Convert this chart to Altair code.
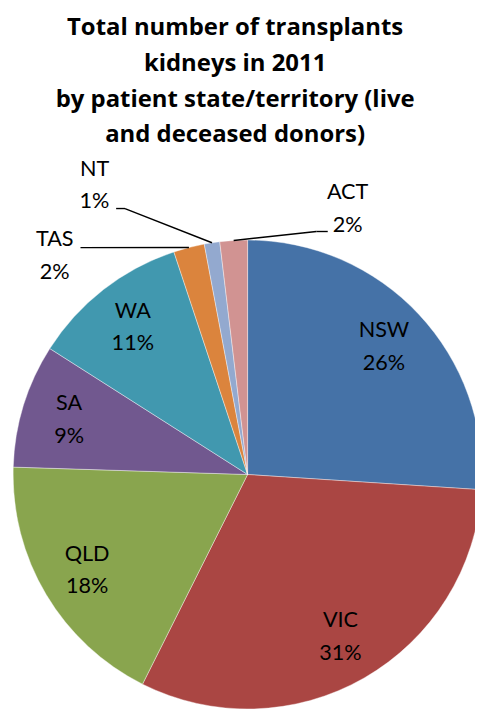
import json
import altair as alt
import pandas as pd

# ---- data ----
states = ["NSW", "VIC", "QLD", "SA", "WA", "TAS", "NT", "ACT"]
transplants = [220, 265, 153, 72, 92, 18, 9, 16]
colors = ["#4572A7", "#AA4643", "#89A54E", "#71588F", "#4198AF", "#DB843D", "#93A9CF", "#D19392"]
title_lines = [
    "Total number of transplants",
    "kidneys in 2011",
    "by patient state/territory (live",
    "and deceased donors)",
]
outside_states = ["TAS", "NT", "ACT"]

# ---- layout ----
W, H = 475, 701
CX, CY, R = 243.7, 468.5, 238.5
LABEL_R = 190
FONT = "Lato"
TITLE_FONT = "Open Sans"
LINE_H = 33
# leader line layout relative to slice edge point: elbow, end, text centre
LEADERS = {
    "TAS": ((-110.3, 0.1), (-110.3, 0.1), (-136.5, 8.4)),
    "NT": ((-88.5, -34.8), (-97.5, -34.8), (-119.5, -58.8)),
    "ACT": ((84.1, -9.1), (95.7, -9.1), (115.9, -32.4)),
}

df = pd.DataFrame({"state": states, "n": transplants, "order": list(range(len(states)))})

base = (
    alt.Chart(df)
    .transform_joinaggregate(total="sum(n)")
    .transform_window(cum="sum(n)", sort=[alt.SortField("order")], frame=[None, 0])
    .transform_calculate(
        a0="2*PI*(datum.cum-datum.n)/datum.total",
        a1="2*PI*datum.cum/datum.total",
    )
    .transform_calculate(
        mid="(datum.a0+datum.a1)/2",
        pct="format(datum.n/datum.total, '.0%')",
    )
    .transform_calculate(
        label="datum.state + '\\n' + datum.pct",
        sx=f"{CX}+{R}*sin(datum.mid)",
        sy=f"{CY}-{R}*cos(datum.mid)",
    )
)

arcs = base.mark_arc(radius=R, stroke="white", strokeWidth=0.4).encode(
    x=alt.value(CX),
    y=alt.value(CY),
    theta=alt.Theta("a0:Q", scale=None, stack=False),
    theta2=alt.Theta2("a1:Q"),
    color=alt.Color("state:N", scale=alt.Scale(domain=states, range=colors), legend=None),
)

text_style = dict(font=FONT, fontSize=22, lineBreak="\n", lineHeight=LINE_H,
                  align="center", baseline="middle", color="black", dy=-LINE_H / 2)

inner = (
    base.transform_filter(f"indexof({json.dumps(outside_states)}, datum.state) < 0")
    .transform_calculate(
        tx=f"{CX}+{LABEL_R}*sin(datum.mid)",
        ty=f"{CY}-{LABEL_R}*cos(datum.mid)",
    )
    .mark_text(**text_style)
    .encode(
        x=alt.X("tx:Q", scale=None, axis=None),
        y=alt.Y("ty:Q", scale=None, axis=None),
        text="label:N",
    )
)

outer_layers = []
for s in outside_states:
    (ex1, ey1), (ex2, ey2), (tx, ty) = LEADERS[s]
    b = base.transform_filter(f"datum.state == '{s}'").transform_calculate(
        e1x=f"datum.sx+({ex1})", e1y=f"datum.sy+({ey1})",
        e2x=f"datum.sx+({ex2})", e2y=f"datum.sy+({ey2})",
        tx=f"datum.sx+({tx})", ty=f"datum.sy+({ty})",
    )
    outer_layers.append(
        b.mark_rule(color="black", strokeWidth=1.4).encode(
            x=alt.X("sx:Q", scale=None, axis=None), y=alt.Y("sy:Q", scale=None, axis=None),
            x2="e1x:Q", y2="e1y:Q",
        )
    )
    outer_layers.append(
        b.mark_rule(color="black", strokeWidth=1.4).encode(
            x=alt.X("e1x:Q", scale=None, axis=None), y=alt.Y("e1y:Q", scale=None, axis=None),
            x2="e2x:Q", y2="e2y:Q",
        )
    )
    outer_layers.append(
        b.mark_text(**text_style).encode(
            x=alt.X("tx:Q", scale=None, axis=None), y=alt.Y("ty:Q", scale=None, axis=None),
            text="label:N",
        )
    )

title = alt.Chart(pd.DataFrame({"t": ["\n".join(title_lines)]})).mark_text(
    font=TITLE_FONT, fontSize=24.3, fontWeight="bold", lineBreak="\n", lineHeight=36.3,
    align="center", baseline="alphabetic", color="black",
).encode(x=alt.value(231), y=alt.value(21.7), text="t:N")

chart = alt.layer(arcs, inner, *outer_layers, title).properties(
    width=W, height=H, autosize=alt.AutoSizeParams(type="none"), padding=0
).configure_view(stroke=None)

chart.save("out.html", embed_options={"renderer": "svg", "actions": False})
